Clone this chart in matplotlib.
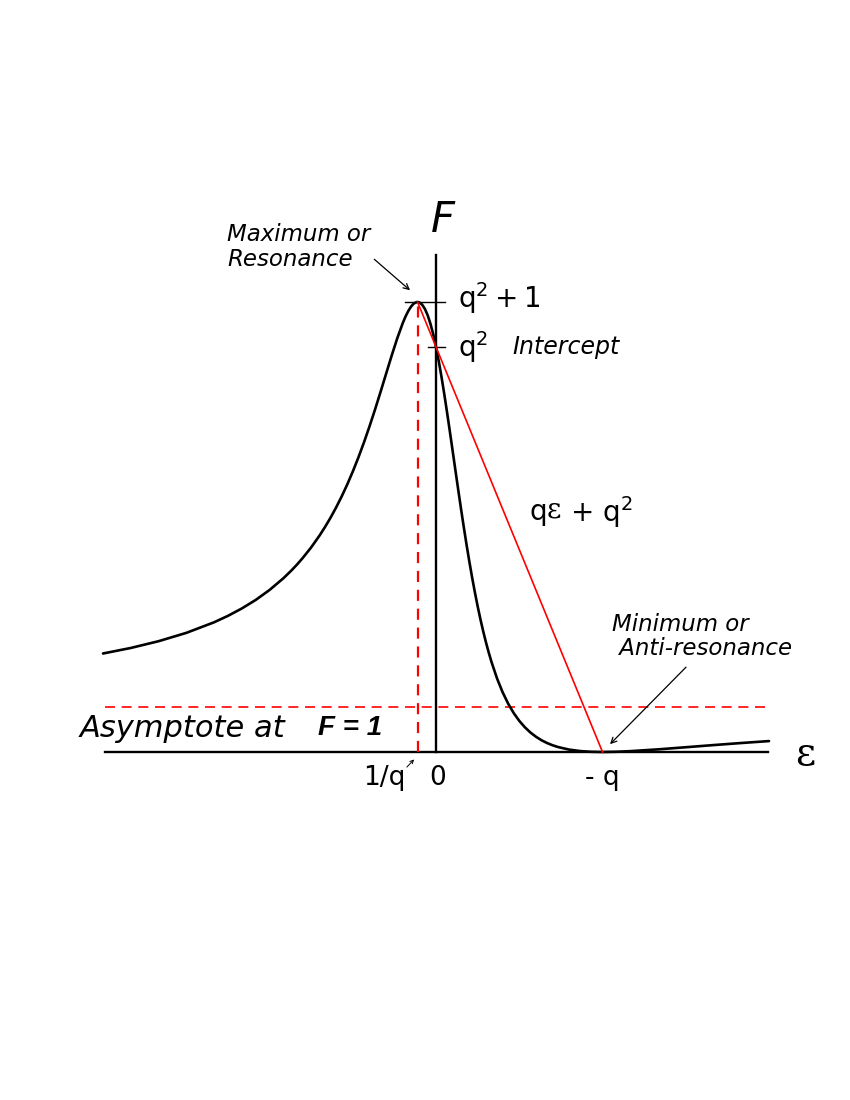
import matplotlib.pyplot as plt
import numpy as np

plt.rcParams['font.family'] = ['DejaVu Sans']
plt.rcParams['mathtext.fontset'] = 'dejavusans'

# Fano profile (q = -3)
eps = [-6, -5.5, -5, -4.5, -4, -3.75, -3.5, -3.25, -3, -2.75, -2.6, -2.5,
       -2.4, -2.25, -2.1, -2, -1.9, -1.8, -1.7, -1.6, -1.5, -1.4, -1.3, -1.2,
       -1.1, -1.0, -0.9, -0.8, -0.7, -0.6, -0.55, -0.5, -0.45, -0.4, -0.35,
       -0.333, -0.3, -0.25, -0.2, -0.15, -0.1, -0.05, 0, 0.05, 0.1, 0.15, 0.2,
       0.25, 0.3, 0.35, 0.4, 0.45, 0.5, 0.55, 0.6, 0.65, 0.7, 0.75, 0.8, 0.85,
       0.9, 0.95, 1.0, 1.1, 1.2, 1.3, 1.4, 1.5, 1.6, 1.7, 1.8, 1.9, 2.0, 2.1,
       2.2, 2.4, 2.6, 2.8, 3.0, 3.25, 3.5, 4, 4.5, 5, 5.5, 6]
F = [2.189, 2.312, 2.462, 2.647, 2.882, 3.025, 3.189, 3.378, 3.6, 3.861,
     4.041, 4.172, 4.314, 4.546, 4.808, 5.0, 5.208, 5.434, 5.679, 5.944,
     6.231, 6.541, 6.874, 7.230, 7.606, 8.0, 8.403, 8.805, 9.188, 9.529,
     9.676, 9.8, 9.898, 9.966, 9.998, 10.0, 9.991, 9.941, 9.846, 9.704,
     9.515, 9.279, 9.0, 8.681, 8.327, 7.944, 7.538, 7.118, 6.688, 6.256,
     5.828, 5.407, 5.0, 4.608, 4.235, 3.882, 3.55, 3.24, 2.951, 2.684, 2.436,
     2.209, 2.0, 1.633, 1.328, 1.074, 0.865, 0.692, 0.551, 0.434, 0.340,
     0.262, 0.2, 0.150, 0.110, 0.053, 0.0206, 0.0045, 0.0, 0.0054, 0.0189,
     0.0588, 0.106, 0.154, 0.2, 0.243]

# tangent line q*eps + q^2 from the maximum to the minimum
line_eps = [-0.333, 3.0]
line_F = [10.0, 0.0]
max_eps, max_F = -0.333, 10.0
intercept = 9.0

fig = plt.figure(figsize=(8.5, 11), dpi=100)
ax = fig.add_axes([0, 0, 1, 1])
ax.set_xlim(-7.856, 7.459)
ax.set_ylim(-7.733, 16.711)
ax.axis('off')

# axes
ax.plot([-5.96, 5.99], [0, 0], color='black', lw=1.7)
ax.plot([0, 0], [0, 11.04], color='black', lw=1.7)
# ticks
ax.plot([-0.55, 0.16], [max_F, max_F], color='black', lw=1.0)
ax.plot([-0.14, 0.16], [intercept, intercept], color='black', lw=1.0)

# asymptote and resonance marker
ax.plot([-5.96, 5.93], [1, 1], color='red', lw=1.2, ls=(0, (6, 4)))
ax.plot([max_eps, max_eps], [0, max_F], color='red', lw=1.6, ls=(0, (5, 3.5)))

ax.plot(eps, F, color='black', lw=1.9, solid_capstyle='round',
        solid_joinstyle='round')
ax.plot(line_eps, line_F, color='red', lw=1.2)

# labels
ax.text(0.126, 11.82, 'F', fontsize=30, style='italic', ha='center', va='center')
ax.text(-3.766, 11.75, 'Maximum or\nResonance', fontsize=16.5, style='italic',
        ha='left', va='top', linespacing=1.1)
ax.annotate('', xy=(-0.43, 10.22), xytext=(-1.15, 10.99),
            arrowprops=dict(arrowstyle='->', color='black', lw=0.9))
ax.text(0.39, 10.09, r'$\mathregular{q^2 + 1}$', fontsize=20, ha='left', va='center')
ax.text(0.39, 9.0, r'$\mathregular{q^2}$', fontsize=20, ha='left', va='center')
ax.text(1.37, 9.0, 'Intercept', fontsize=17, style='italic', ha='left', va='center')
ax.text(1.69, 5.33, 'q', fontsize=20, ha='left', va='center')
ax.text(2.0, 5.38, 'ε', fontsize=20, family='DejaVu Serif', ha='left', va='center')
ax.text(2.42, 5.33, r'$\mathregular{+\ q^2}$', fontsize=20, ha='left', va='center')
ax.text(3.17, 3.1, 'Minimum or\n Anti-resonance', fontsize=16.5, style='italic',
        ha='left', va='top', linespacing=1.1)
ax.annotate('', xy=(3.1, 0.13), xytext=(4.54, 1.93),
            arrowprops=dict(arrowstyle='->', color='black', lw=0.9))
ax.text(-6.42, 0.53, 'Asymptote at ', fontsize=22, style='italic', ha='left', va='center')
ax.text(-2.13, 0.53, 'F = 1', fontsize=20, style='italic', weight='bold',
        family='Liberation Sans', ha='left', va='center')
ax.text(-0.55, -0.58, '1/q', fontsize=19, ha='right', va='center')
ax.annotate('', xy=(-0.36, -0.12), xytext=(-0.56, -0.38),
            arrowprops=dict(arrowstyle='->', color='black', lw=0.7,
                            mutation_scale=6))
ax.text(0.02, -0.58, '0', fontsize=19, ha='center', va='center')
ax.text(3.0, -0.58, '- q', fontsize=19, ha='center', va='center')
ax.text(6.65, -0.05, 'ε', fontsize=28, family='DejaVu Serif', ha='center', va='center')

plt.savefig('out.png', dpi=100)
